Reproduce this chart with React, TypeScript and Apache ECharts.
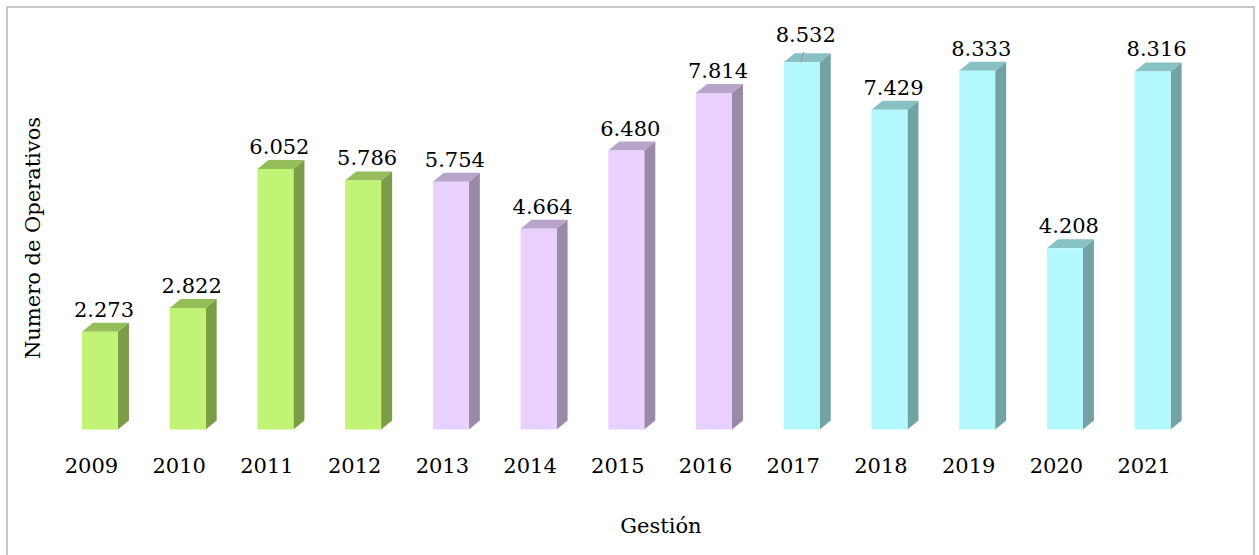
import React, { useEffect, useRef } from "react";
import * as echarts from "echarts";

const years = ["2009", "2010", "2011", "2012", "2013", "2014", "2015", "2016", "2017", "2018", "2019", "2020", "2021"];
const operativos = [2273, 2822, 6052, 5786, 5754, 4664, 6480, 7814, 8532, 7429, 8333, 4208, 8316];
const periodOf = [0, 0, 0, 0, 1, 1, 1, 1, 2, 2, 2, 2, 2];
const frontColors = ["#c1f375", "#e8d1fe", "#b3f8fc"];
const topColors = ["#95be5a", "#b8a4c9", "#88c1c4"];
const sideColors = ["#7b9d48", "#9b8aa7", "#73a2a5"];
const xTitle = "Gestión";
const yTitle = "Numero de Operativos";

const FONT = '"DejaVu Serif", "Liberation Serif", serif';

function fmt(v: number): string {
  return String(v).replace(/\B(?=(\d{3})+(?!\d))/g, ".");
}

export default function App() {
  const ref = useRef<HTMLDivElement>(null);
  useEffect(() => {
    if (!ref.current) return;
    const chart = echarts.init(ref.current, null, { renderer: "svg" });
    const HALF = 18;
    const DX = 11;
    const DY = 9;
    const SHIFT = 8.5;
    chart.setOption({
      animation: false,
      backgroundColor: "#ffffff",
      grid: { left: 47.6, right: 71, top: 42, bottom: 125.5 },
      xAxis: {
        type: "category",
        data: years,
        axisLine: { show: false },
        axisTick: { show: false },
        axisLabel: { color: "#000", fontFamily: FONT, fontSize: 21, margin: 26 },
      },
      yAxis: { type: "value", min: 0, max: 9000, show: false },
      graphic: [
        {
          type: "rect",
          shape: { x: 7, y: 7, width: 1247, height: 570 },
          style: { fill: "none", stroke: "#c8c8c8", lineWidth: 2 },
          silent: true,
        },
        {
          type: "text",
          x: 661,
          y: 526,
          style: { text: xTitle, font: `21px ${FONT}`, fill: "#000", align: "center", verticalAlign: "middle" },
        },
        {
          type: "text",
          x: 33,
          y: 238,
          rotation: Math.PI / 2,
          style: { text: yTitle, font: `21px ${FONT}`, fill: "#000", align: "center", verticalAlign: "middle" },
        },
      ],
      series: [
        {
          type: "custom",
          data: operativos.map((v, i) => [i, v]),
          encode: { x: 0, y: 1 },
          renderItem: (params: any, api: any) => {
            const idx = params.dataIndex;
            const p = periodOf[idx];
            const top = api.coord([api.value(0), api.value(1)]);
            const base = api.coord([api.value(0), 0]);
            const cx = top[0] + SHIFT;
            const ty = top[1];
            const by = base[1];
            const lift = idx === 8 ? 5 : 0;
            const children: any[] = [
              {
                type: "polygon",
                shape: { points: [[cx + HALF, ty], [cx + HALF + DX, ty - DY], [cx + HALF + DX, by - DY], [cx + HALF, by]] },
                style: { fill: sideColors[p] },
              },
              {
                type: "polygon",
                shape: { points: [[cx - HALF, ty], [cx - HALF + DX, ty - DY], [cx + HALF + DX, ty - DY], [cx + HALF, ty]] },
                style: { fill: topColors[p] },
              },
              {
                type: "rect",
                shape: { x: cx - HALF, y: ty, width: HALF * 2, height: by - ty },
                style: { fill: frontColors[p] },
              },
              {
                type: "text",
                x: cx + 4,
                y: ty - 22 - lift,
                style: {
                  text: fmt(operativos[idx]),
                  font: `21px ${FONT}`,
                  fill: "#000",
                  align: "center",
                  verticalAlign: "middle",
                },
              },
            ];
            if (lift) {
              children.push({
                type: "line",
                shape: { x1: cx + 2, y1: ty - DY - 1, x2: cx - 1, y2: ty },
                style: { stroke: "#a0a0a0", lineWidth: 1.5 },
              });
            }
            return { type: "group", children };
          },
        },
      ],
    });
    return () => chart.dispose();
  }, []);
  return (
    <div
      ref={ref}
      style={{ position: "fixed", left: 0, top: 0, width: 1259, height: 555 }}
    />
  );
}
